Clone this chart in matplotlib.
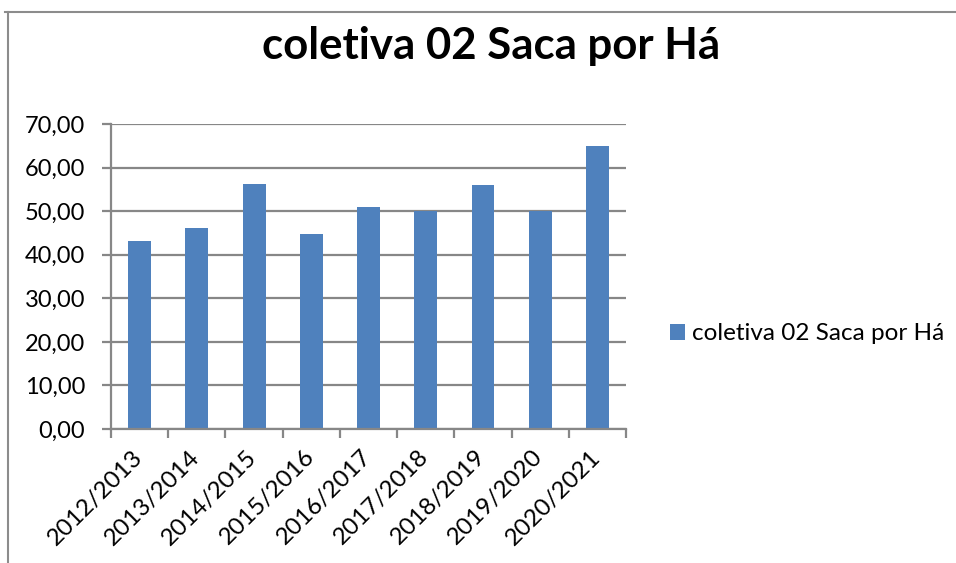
import matplotlib
matplotlib.use("Agg")
import matplotlib.pyplot as plt
from matplotlib.lines import Line2D
from matplotlib.transforms import ScaledTranslation
import numpy as np

categories = ["2012/2013", "2013/2014", "2014/2015", "2015/2016", "2016/2017",
              "2017/2018", "2018/2019", "2019/2020", "2020/2021"]
values = [43.2, 46.1, 56.2, 44.7, 50.9, 50.0, 55.9, 50.0, 65.0]
series_name = "coletiva 02 Saca por Há"
title = "coletiva 02 Saca por Há"
yticks = [0, 10, 20, 30, 40, 50, 60, 70]

plt.rcParams['font.family'] = ['Lato', 'DejaVu Sans']

W, H = 956, 563
fig = plt.figure(figsize=(W / 100, H / 100), dpi=100)
fig.patch.set_facecolor('white')

ax = fig.add_axes([111 / W, 1 - 429 / H, (626 - 111) / W, (429 - 124) / H])
x = np.arange(len(categories))
ax.bar(x, values, width=0.4, color='#4F81BD', label=series_name, zorder=3)

grid_c = '#878787'
ax.set_ylim(0, 70)
ax.set_xlim(-0.5, len(categories) - 0.5)
ax.set_yticks(yticks)
ax.set_yticklabels([f"{v:.2f}".replace('.', ',') for v in yticks], fontsize=17)
ax.yaxis.grid(True, color=grid_c, linewidth=1.6, zorder=0)
ax.tick_params(axis='y', length=6.5, width=1.6, color=grid_c, pad=12)

ax.set_xticks(x)
ax.set_xticklabels(categories, rotation=45, ha='right', va='baseline',
                   rotation_mode='anchor', fontsize=17.5)
ax.set_xticks(np.arange(len(categories) + 1) - 0.5, minor=True)
ax.tick_params(axis='x', which='major', length=0, pad=21)
ax.tick_params(axis='x', which='minor', length=6.5, width=1.6, color=grid_c)
off = ScaledTranslation(4 / 100, 0, fig.dpi_scale_trans)
for lab in ax.get_xticklabels():
    lab.set_transform(lab.get_transform() + off)

for s in ['top', 'right']:
    ax.spines[s].set_visible(False)
for s in ['left', 'bottom']:
    ax.spines[s].set_color(grid_c)
    ax.spines[s].set_linewidth(1.6)
    ax.spines[s].set_zorder(4)

fig.text(491 / W, 1 - 59 / H, title, ha='center', va='baseline',
         fontsize=31.5, fontweight='bold', color='black')

leg = fig.legend(loc='center left', bbox_to_anchor=(670 / W, 1 - 334 / H),
                 frameon=False, fontsize=17.5, handlelength=0.62, handleheight=0.62,
                 handletextpad=0.3, borderpad=0, borderaxespad=0)

fig.add_artist(Line2D([5 / W, 1], [1 - 12 / H, 1 - 12 / H], color='#8c8c8c', linewidth=1.5))
fig.add_artist(Line2D([8 / W, 8 / W], [0, 1 - 12 / H], color='#8c8c8c', linewidth=1.5))

fig.savefig('out.png', dpi=100, facecolor='white')
